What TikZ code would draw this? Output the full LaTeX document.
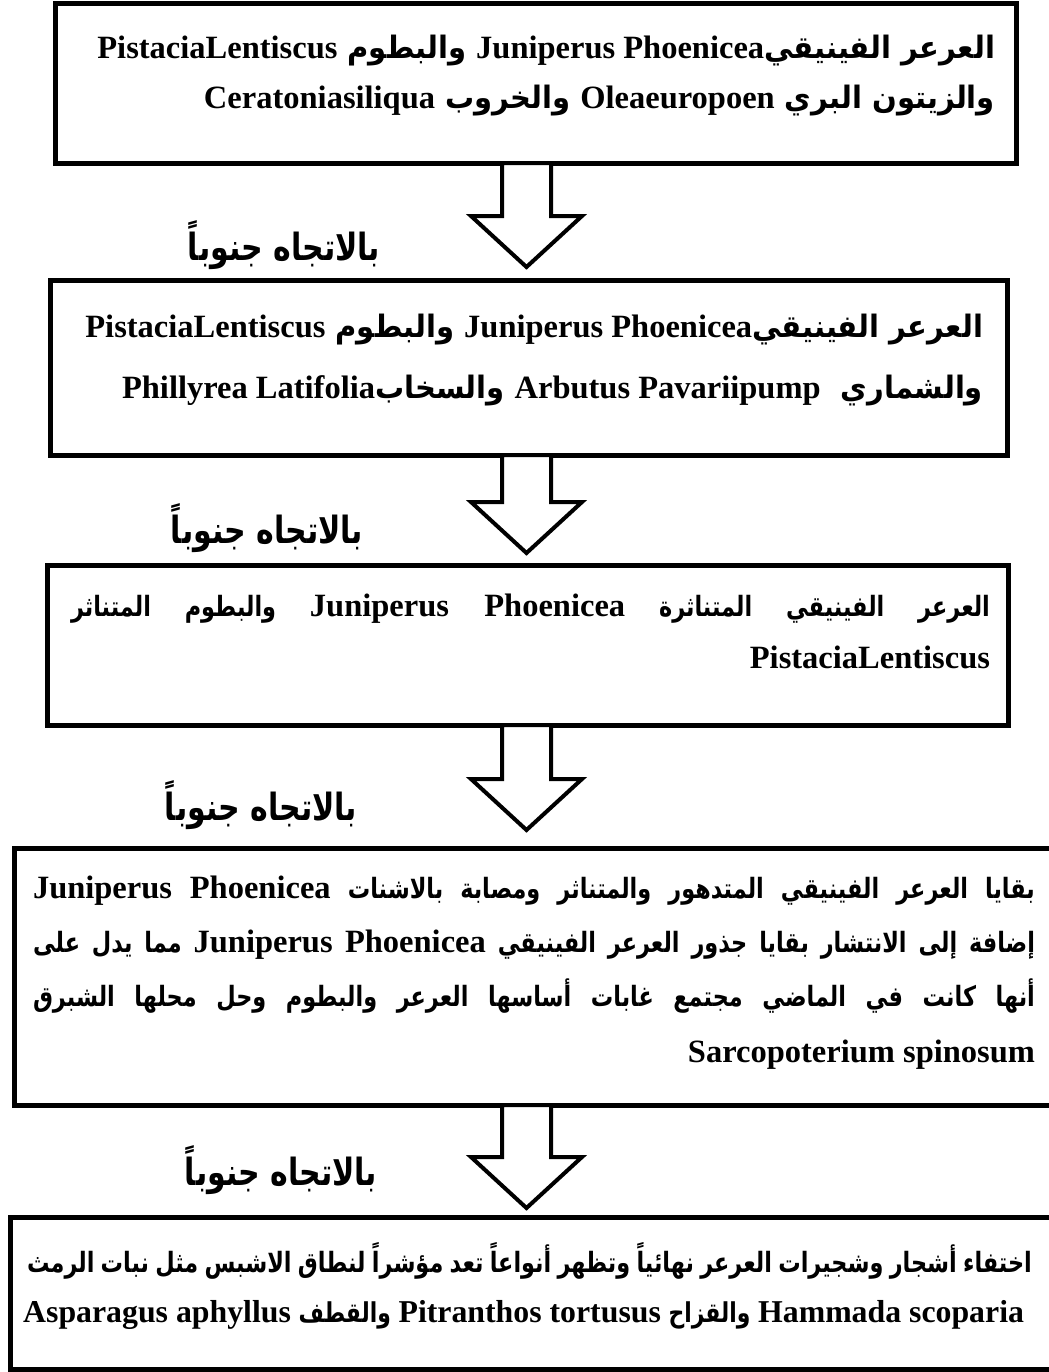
\documentclass[tikz,border=0pt]{standalone}
\usepackage{fontspec}
\setmainfont{Liberation Serif}
\newfontfamily\arfont[Script=Arabic,Scale=0.86,FakeStretch=0.8]{DejaVu Sans}
\newfontfamily\arbig[Script=Arabic,Scale=0.95,FakeStretch=0.94]{DejaVu Sans}
\TeXXeTstate=1
\usetikzlibrary{calc}
\newcommand\La[1]{\beginL{\rmfamily #1}\endL}
\newcommand\DrawDownArrow[2]{%
  \draw[barrow] ($(#1.south -| #2)+(-24.5,0)$) -- ($(#2)+(-24.5,-51)$) -- ($(#2)+(-55.5,-51)$) -- (#2)
    -- ($(#2)+(55.5,-51)$) -- ($(#2)+(24.5,-51)$) -- ($(#1.south -| #2)+(24.5,0)$) -- cycle;}
\tikzset{
  box/.style={draw, line width=2.5pt, fill=white, inner sep=0pt, outer sep=0pt},
  barrow/.style={draw, line width=2pt, fill=white, line join=miter, miter limit=10},
  txt/.style={inner sep=0pt, outer sep=0pt, anchor=base east, font=\fontsize{16.25}{20}\selectfont\bfseries\arfont},
  txtbig/.style={txt, font=\fontsize{16.25}{20}\selectfont\bfseries\arbig},
  txtsmall/.style={txt, font=\fontsize{15.9}{20}\selectfont\bfseries\arfont},
  lbl/.style={inner sep=0pt, outer sep=0pt, anchor=base, font=\fontsize{21.8}{26}\selectfont\bfseries\arfont},
}
\begin{document}
\begin{tikzpicture}[x=0.5pt,y=-0.5pt]
\useasboundingbox (0,0) rectangle (1049,1372);
\fill[white] (0,0) rectangle (1049,1372);

% boxes
\node[box, minimum width=480.5pt, minimum height=80pt] (b1) at (535.5,83) {};
\node[box, minimum width=478.5pt, minimum height=87.5pt] (b2) at (528.5,367.5) {};
\node[box, minimum width=480.5pt, minimum height=80pt] (b3) at (527.5,645) {};
\node[box, minimum width=520.5pt, minimum height=128.5pt] (b4) at (534.5,976.5) {};
\node[box, minimum width=522.5pt, minimum height=76pt] (b5) at (532.5,1293) {};

% arrows (connectors between boxes)
\coordinate (t1) at (526.5,267);
\coordinate (t2) at (526.5,553);
\coordinate (t3) at (526.5,830);
\coordinate (t4) at (526.5,1208);
\DrawDownArrow{b1}{t1}
\DrawDownArrow{b2}{t2}
\DrawDownArrow{b3}{t3}
\DrawDownArrow{b4}{t4}

% labels
\node[lbl] (l1) at (284,260) {\beginR بالاتجاه جنوباً\endR};
\node[lbl] (l2) at (267,543) {\beginR بالاتجاه جنوباً\endR};
\node[lbl] (l3) at (261,820) {\beginR بالاتجاه جنوباً\endR};
\node[lbl] (l4) at (281,1185) {\beginR بالاتجاه جنوباً\endR};

% box 1
\node[txtbig] (b1a) at (995,58) {\beginR العرعر الفينيقي\La{Juniperus Phoenicea} والبطوم \La{PistaciaLentiscus}\endR};
\node[txtbig] (b1b) at (995,108) {\beginR والزيتون البري \La{Oleaeuropoen} والخروب \La{Ceratoniasiliqua}\endR};

% box 2
\node[txtbig] (b2a) at (983,337) {\beginR العرعر الفينيقي\La{Juniperus Phoenicea} والبطوم \La{PistaciaLentiscus}\endR};
\node[txtbig] (b2b) at (983,398) {\beginR والشماري \ \La{Arbutus Pavariipump} والسخاب\La{Phillyrea Latifolia}\endR};

% box 3
\node[txt] (b3a) at (990,616) {\hbox to 459.5pt{\beginR العرعر الفينيقي المتناثرة \La{Juniperus Phoenicea} والبطوم المتناثر\endR}};
\node[txt] (b3b) at (990,668) {\La{PistaciaLentiscus}};

% box 4
\node[txt] (b4a) at (1035,898) {\hbox to 501pt{\beginR بقايا العرعر الفينيقي المتدهور والمتناثر ومصابة بالاشنات \La{Juniperus Phoenicea}\endR}};
\node[txt] (b4b) at (1035,952) {\hbox to 501pt{\beginR إضافة إلى الانتشار بقايا جذور العرعر الفينيقي \La{Juniperus Phoenicea} مما يدل على\endR}};
\node[txt] (b4c) at (1035,1006) {\hbox to 501pt{\beginR أنها كانت في الماضي مجتمع غابات أساسها العرعر والبطوم وحل محلها الشبرق\endR}};
\node[txt] (b4d) at (1035,1062) {\La{Sarcopoterium spinosum}};

% box 5
\node[txt] (b5a) at (1032,1272) {\hbox to 502.5pt{\beginR اختفاء أشجار وشجيرات العرعر نهائياً وتظهر أنواعاً تعد مؤشراً لنطاق الاشبس مثل نبات الرمث\endR}};
\node[txtsmall] (b5b) at (1024,1322) {\beginR\La{Hammada scoparia} والقزاح \La{Pitranthos tortusus} والقطف \La{Asparagus aphyllus}\endR};
\end{tikzpicture}
\end{document}
